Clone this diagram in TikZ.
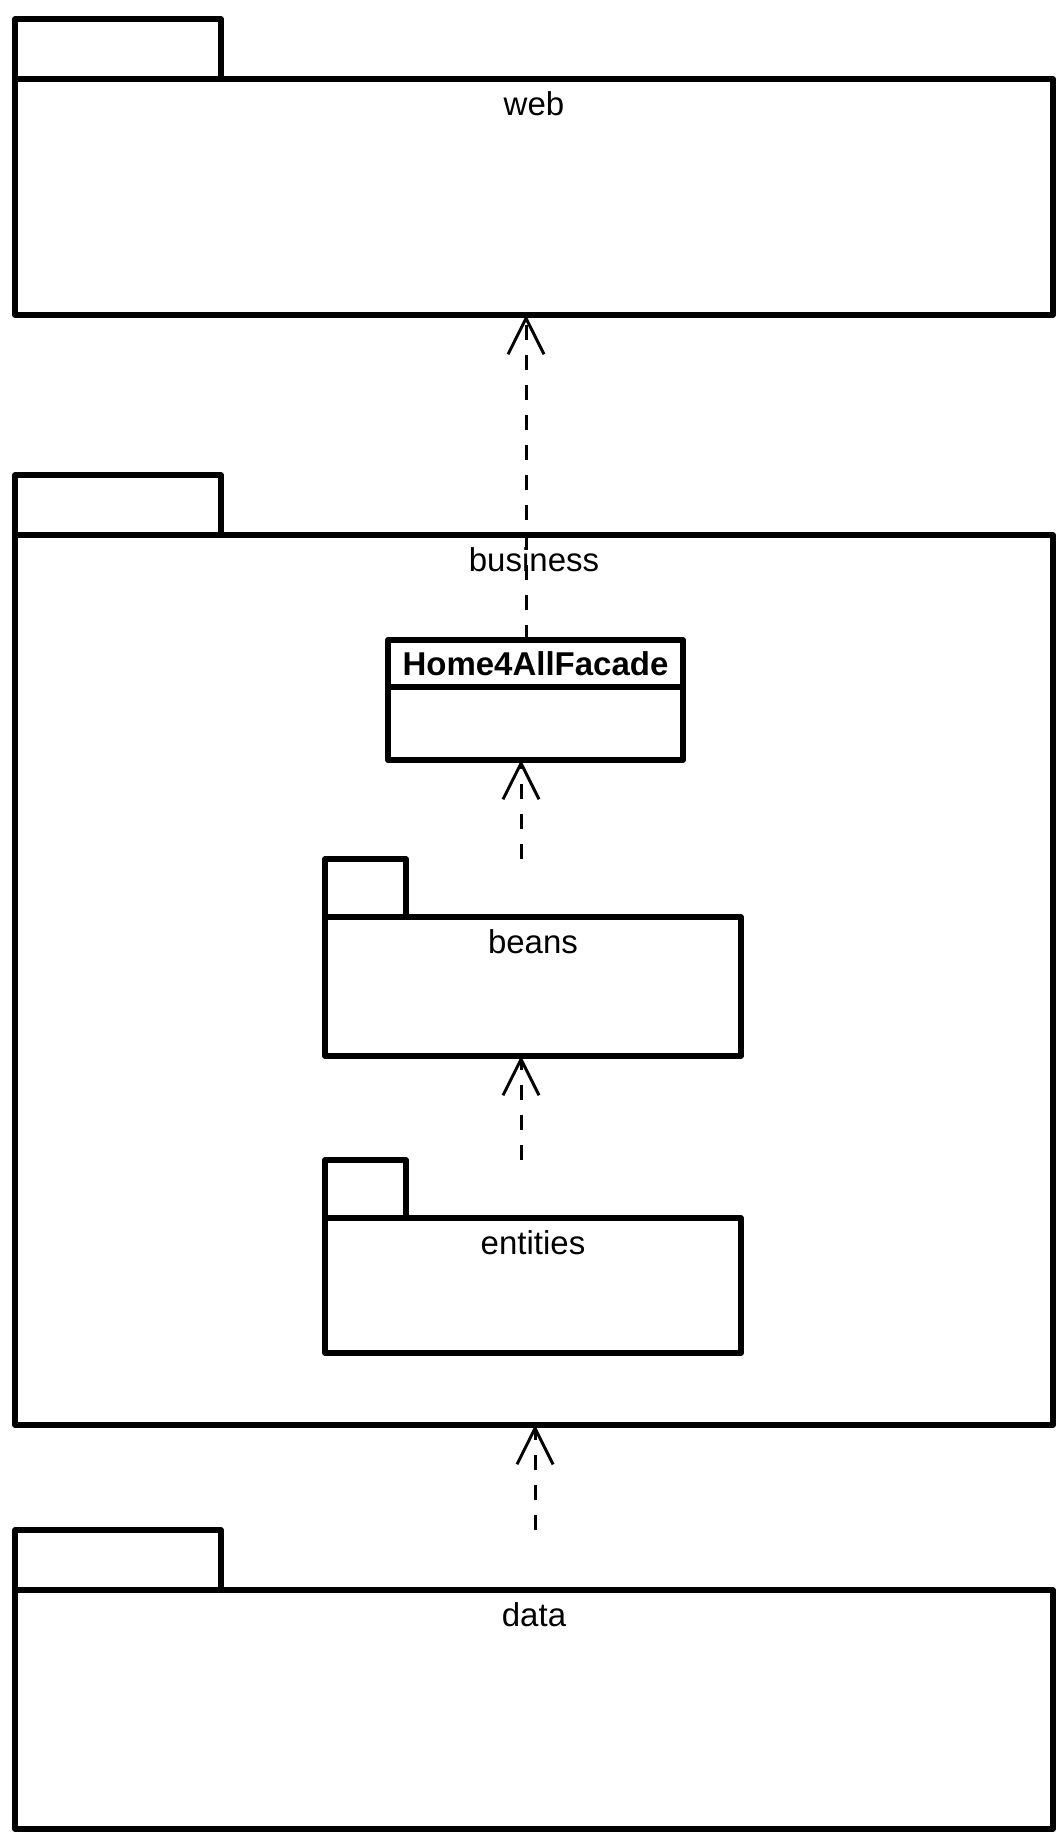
\documentclass[tikz,border=0pt]{standalone}
\usepackage{fontspec}
\setmainfont{Liberation Sans}
\usetikzlibrary{arrows.meta,positioning}

\begin{document}
\begin{tikzpicture}[x=0.5pt,y=-0.5pt,line width=2.7pt,line join=round,
                    font=\fontsize{16.5}{19}\selectfont]
  \tikzstyle{pkg}=[draw,rectangle,outer sep=0pt,inner sep=0pt,minimum width=519pt]
  \tikzstyle{subpkg}=[pkg,minimum width=208pt]
  \tikzstyle{pkgtab}=[draw,rectangle,outer sep=0pt,inner sep=0pt,anchor=south west,
                      minimum width=103pt,minimum height=30pt]
  \tikzstyle{subtab}=[pkgtab,minimum width=40.5pt,minimum height=29pt]
  \tikzstyle{pkgname}=[anchor=center,yshift=-12.5pt]
  \tikzstyle{classbox}=[draw,rectangle,outer sep=0pt,minimum width=147.5pt]
  \tikzstyle{dep}=[-{Straight Barb[length=18pt,width=18pt]},line width=1.5pt,
                   dash pattern=on 7.5pt off 7.5pt]

  \useasboundingbox (0,0) rectangle (1062,1845);

  \node[pkg,minimum height=118pt,label={[pkgname]north:web}]        (web)      at (534,197)    {};
  \node[pkgtab] (webtab)      at (web.north west)      {};
  \node[pkg,minimum height=445pt,label={[pkgname]north:business}]   (business) at (534,980)    {};
  \node[pkgtab] (businesstab) at (business.north west) {};
  \node[pkg,minimum height=119.5pt,label={[pkgname]north:data}]     (data)     at (534,1709.5) {};
  \node[pkgtab] (datatab)     at (data.north west)     {};

  \node[classbox,minimum height=23.5pt,font=\bfseries\fontsize{16.5}{19}\selectfont]
        (facade) at (535.5,663.5) {Home4AllFacade};
  \node[classbox,minimum height=36.5pt,below=0pt of facade] (facadebody) {};

  \node[subpkg,minimum height=69.5pt,label={[pkgname]north:beans}]    (beans)    at (533,986.5)  {};
  \node[subtab] (beanstab)    at (beans.north west)    {};
  \node[subpkg,minimum height=67.5pt,label={[pkgname]north:entities}] (entities) at (533,1285.5) {};
  \node[subtab] (entitiestab) at (entities.north west) {};

  \coordinate (facadeout)   at ([xshift=-4.75pt]facade.north);
  \coordinate (beansout)    at ([xshift=-6pt]beans.north |- beanstab.north);
  \coordinate (entitiesout) at ([xshift=-6pt]entities.north |- entitiestab.north);
  \coordinate (dataout)     at ([xshift=0.5pt]data.north |- datatab.north);

  \draw[dep] (facadeout)   -- (facadeout |- web.south);
  \draw[dep] (beansout)    -- (beansout |- facadebody.south);
  \draw[dep] (entitiesout) -- (entitiesout |- beans.south);
  \draw[dep] (dataout)     -- (dataout |- business.south);
\end{tikzpicture}
\end{document}
